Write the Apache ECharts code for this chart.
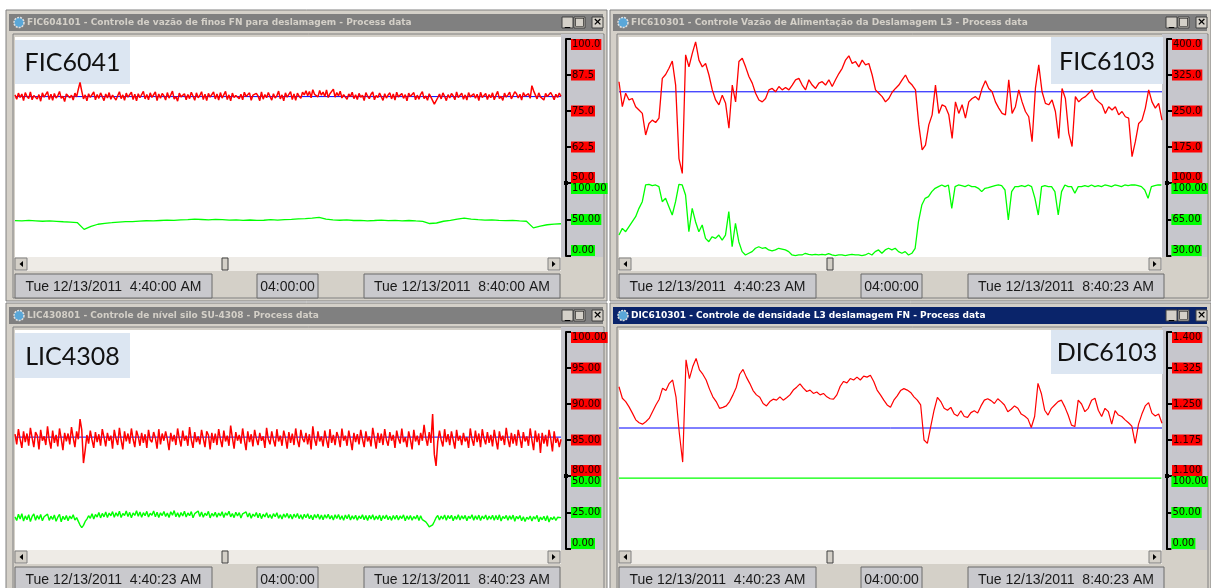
<!DOCTYPE html>
<html>
<head>
<meta charset="utf-8">
<title>Process data</title>
<script src="https://cdn.jsdelivr.net/npm/echarts@6/dist/echarts.min.js"></script>
<style>
  html, body { margin: 0; padding: 0; background: #fff; }
  #chart { width: 1211px; height: 588px; }
</style>
</head>
<body>
<div id="chart"></div>
<script>
// 4 horas de tendência em cada janela (minutos)
const timeSpan = 240

// FIC6041 - vazão de finos
const fic6041Red = [
  80.6, 79.1, 81.2, 79.7, 80.9, 78.6, 81.4, 80.0, 79.3, 81.6, 78.9, 80.4, 81.0, 79.2, 80.7, 78.4, 81.3, 79.8, 80.2, 81.7,
  79.0, 80.8, 78.7, 81.1, 79.5, 80.3, 81.8, 79.4, 80.1, 78.3, 80.9, 81.5, 79.6, 80.5, 78.8, 81.2, 79.9, 82.6, 84.9, 81.9,
  79.2, 80.6, 78.5, 81.0, 79.7, 80.2, 81.6, 78.9, 80.7, 79.4, 81.3, 80.0, 78.6, 80.9, 79.5, 81.4, 79.1, 80.5, 81.1, 78.8,
  80.3, 81.7, 79.3, 80.6, 78.7, 81.2, 79.8, 80.4, 81.5, 79.0, 80.8, 78.5, 81.0, 79.6, 80.2, 81.8, 79.2, 80.7, 78.9, 81.3,
  79.7, 80.1, 81.6, 78.6, 80.9, 79.4, 81.1, 80.3, 78.8, 81.4, 79.5, 80.6, 81.9, 79.1, 80.0, 78.4, 81.2, 79.9, 80.5, 81.0,
  78.9, 80.7, 79.3, 81.5, 80.2, 78.7, 81.3, 79.6, 80.4, 81.7, 79.0, 80.8, 78.6, 81.1, 79.8, 80.3, 81.6, 79.2, 80.9, 78.8,
  81.4, 79.5, 80.1, 81.8, 79.0, 80.6, 78.5, 81.2, 79.7, 80.4, 81.0, 79.3, 80.8, 78.9, 81.5, 80.0, 79.4, 81.3, 78.7, 80.5,
  79.9, 81.1, 80.2, 78.6, 81.6, 79.1, 80.7, 79.6, 81.4, 80.0, 78.8, 81.0, 79.5, 80.3, 81.9, 79.2, 80.6, 78.5, 81.3, 79.8,
  80.4, 81.7, 79.0, 80.9, 78.7, 81.2, 80.1, 79.4, 81.5, 80.6, 82.0, 80.3, 81.8, 79.6, 82.4, 80.8, 81.2, 79.9, 82.1, 80.5,
  81.6, 80.0, 82.3, 79.7, 81.0, 80.4, 82.6, 79.8, 81.4, 80.2, 81.9, 79.5, 80.7, 81.3, 79.1, 80.9, 80.0, 81.5, 79.3, 80.6,
  79.0, 81.1, 79.8, 80.5, 78.6, 81.4, 80.1, 79.3, 80.8, 81.6, 78.9, 80.4, 79.7, 81.2, 80.0, 78.7, 81.0, 79.5, 80.6, 81.3,
  79.2, 80.9, 78.8, 81.5, 79.9, 80.3, 81.1, 79.4, 80.7, 78.5, 81.2, 80.0, 79.6, 81.4, 78.9, 80.5, 79.1, 80.8, 81.7, 79.3,
  80.2, 78.7, 81.0, 79.8, 80.4, 77.4, 77.9, 79.6, 80.9, 79.2, 81.3, 80.1, 78.6, 80.7, 79.5, 81.1, 80.3, 78.9, 81.6, 79.7,
  80.0, 81.2, 79.1, 80.6, 78.8, 81.4, 79.9, 80.3, 81.0, 79.4, 80.8, 78.6, 81.5, 79.7, 80.2, 81.1, 79.0, 80.7, 79.6, 81.3,
  78.9, 80.5, 81.8, 79.3, 80.1, 78.7, 81.2, 79.8, 80.6, 81.5, 79.2, 80.4, 81.7, 81.0, 79.5, 80.8, 78.8, 81.4, 80.2, 79.6,
  81.0, 79.4, 83.8, 82.0, 80.6, 79.2, 81.3, 79.9, 80.4, 78.8, 81.1, 80.0, 79.5, 81.4, 80.3, 78.9, 80.8, 79.7, 81.2, 80.1
]
const fic6041Green = [
  48.5, 48.0, 48.8, 48.2, 47.6, 48.1, 47.5, 46.9, 46.4, 45.8,
  36.5, 40.5, 43.5, 44.8, 45.6, 46.5, 47.2, 47.0, 47.8, 48.3,
  48.0, 48.6, 49.2, 48.8, 49.5, 49.9, 50.4, 50.0, 49.6, 50.3,
  49.8, 49.2, 49.6, 48.8, 49.3, 48.7, 49.0, 49.7, 49.1, 49.8,
  50.2, 50.8, 51.2, 52.0, 53.0, 50.5, 49.6, 49.0, 49.4, 48.6,
  48.9, 48.2, 48.6, 49.1, 48.5, 48.8, 48.2, 48.6, 48.0, 47.5,
  44.5, 45.2, 47.6, 48.8, 50.5, 51.8, 50.6, 49.8, 49.2, 49.6,
  48.9, 48.4, 48.7, 48.1, 47.6, 38.5, 41.0, 42.8, 43.6, 44.2
]
const fic6041Sp = 80
const fic6041RedTicks = [50, 62.5, 75, 87.5, 100]
const fic6041GreenTicks = [0, 50, 100]

// FIC6103 - vazão de alimentação
const fic6103Red = [
  311, 259, 287, 273, 276, 259, 252, 245, 200, 224,
  231, 226, 235, 318, 326, 339, 354, 304, 151, 120,
  367, 342, 370, 394, 356, 342, 349, 325, 294, 273,
  263, 283, 266, 214, 304, 269, 353, 360, 342, 322,
  308, 287, 273, 269, 276, 294, 297, 290, 301, 294,
  299, 294, 304, 315, 318, 304, 294, 315, 304, 297,
  308, 311, 304, 315, 301, 315, 328, 339, 356, 365,
  349, 353, 342, 356, 346, 349, 325, 294, 287, 280,
  269, 276, 289,
  297, 304, 315, 325, 311, 304, 294, 221, 169, 179,
  221, 242, 304, 245, 263, 259, 242, 193, 269, 245,
  263, 235, 269, 276, 280, 273, 297, 313, 297, 290,
  269, 256, 245, 242, 315, 245, 259, 294, 269, 249,
  238, 186, 297, 346, 290, 266, 263, 273, 249, 193,
  297, 276, 204, 176, 280, 269, 276, 280, 287, 294,
  276, 269, 263, 245, 259, 252, 259, 242, 249, 238,
  235, 155, 186, 224, 231, 256, 294, 269, 256, 266,
  231
]
const fic6103Green = [
  50.1, 56.5, 53.3, 58.1, 62.9, 67.7, 75.7, 82.1, 98.1, 98.7,
  97.4, 98.1, 96.5, 82.1, 85.3, 77.3, 69.3, 82.1, 98.7, 98.1,
  88.5, 53.3, 75.7, 62.9, 53.3, 59.7, 46.9, 43.7, 48.5, 46.9,
  50.1, 45.3, 50.1, 72.5, 38.9, 61.3, 43.7, 34.2, 31.0, 32.6,
  34.2, 37.4, 38.9, 37.4, 38.0, 35.8, 34.8, 35.8, 37.4, 36.7,
  35.8, 34.2, 31.0, 30.3, 31.0, 31.0, 32.6, 31.6, 31.0, 31.6,
  31.0, 31.6, 31.0, 32.2, 31.0, 30.3, 31.0, 31.0, 30.3, 31.0,
  31.6, 31.0, 31.0, 30.3, 31.0, 32.6, 31.0, 34.2, 35.8, 32.6,
  35.8, 37.4, 35.8,
  37.4, 34.2, 32.6, 34.2, 31.0, 32.6, 37.4, 62.9, 78.9, 85.3,
  86.9, 91.7, 94.9, 96.5, 98.1, 96.5, 98.1, 75.7, 96.5, 98.1,
  97.4, 96.5, 98.1, 96.5, 96.5, 94.9, 91.7, 94.9, 95.5, 96.5,
  97.4, 98.1, 97.4, 93.3, 64.5, 91.7, 96.5, 96.5, 97.4, 96.5,
  98.1, 96.5, 85.3, 69.3, 96.5, 97.4, 96.5, 96.5, 91.7, 69.3,
  91.7, 98.1, 96.5, 96.5, 90.1, 96.5, 96.5, 97.4, 96.5, 98.1,
  96.5, 97.4, 96.5, 98.1, 97.4, 96.5, 98.1, 97.4, 96.5, 98.1,
  97.4, 98.1, 98.1, 97.4, 96.5, 93.3, 85.3, 96.5, 97.4, 98.1,
  98.1
]
const fic6103Sp = 290
const fic6103RedTicks = [100, 175, 250, 325, 400]
const fic6103GreenTicks = [30, 65, 100]

// LIC4308 - nível silo
const lic4308Red = [
  85.8, 84.4, 86.5, 85.1, 83.9, 86.2, 84.7, 85.9, 84.2, 86.7, 85.3, 84.0, 86.1, 85.6, 83.7, 86.4, 84.9, 85.5, 84.3, 86.9,
  85.0, 83.8, 86.3, 84.6, 85.7, 84.1, 86.6, 85.2, 83.6, 86.0, 84.8, 85.9, 84.4, 86.8, 85.3, 84.0, 86.2, 85.1, 87.9, 86.4,
  81.8, 83.6, 85.7, 84.5, 86.3, 85.0, 83.9, 86.1, 84.7, 85.8, 84.2, 86.5, 85.4, 84.1, 86.0, 84.9, 85.6, 83.8, 86.4, 85.2,
  84.3, 86.7, 85.0, 83.7, 86.2, 84.8, 85.9, 84.5, 86.6, 85.1, 84.0, 86.3, 85.5, 84.2, 86.0, 84.6, 85.8, 83.9, 86.4, 85.0,
  84.7, 86.1, 85.3, 83.8, 86.5, 84.4, 85.9, 84.9, 86.2, 85.1, 83.6, 86.0, 84.8, 85.7, 84.3, 86.6, 85.2, 84.1, 86.3, 84.9,
  85.6, 84.2, 86.8, 85.0, 83.9, 86.1, 84.7, 85.5, 84.4, 86.4, 85.2, 84.0, 86.2, 85.7, 83.7, 86.0, 84.6, 85.9, 84.3, 86.5,
  85.1, 84.0, 86.3, 84.8, 85.6, 84.2, 87.0, 85.3, 83.8, 86.1, 84.9, 85.7, 84.5, 86.6, 85.0, 83.6, 86.2, 84.7, 85.8, 84.1,
  86.4, 85.2, 84.3, 86.0, 84.9, 85.5, 83.9, 86.7, 85.1, 84.4, 86.2, 85.0, 84.1, 86.5, 84.8, 85.6, 84.2, 86.3, 85.3, 83.8,
  86.1, 84.6, 85.9, 84.3, 86.6, 85.0, 84.0, 86.4, 85.2, 84.7, 86.0, 84.4, 85.8, 83.7, 86.9, 85.1, 84.2, 86.2, 84.8, 85.5,
  84.1, 86.3, 85.0, 83.9, 86.5, 84.6, 85.7, 84.3, 86.1, 85.4, 84.0, 86.6, 84.9, 85.6, 84.2, 86.3, 85.0, 83.6, 86.0, 84.7,
  85.8, 84.4, 86.4, 85.1, 84.0, 86.2, 84.8, 85.5, 84.1, 86.7, 85.3, 83.8, 86.0, 84.6, 85.9, 84.3, 86.5, 85.0, 84.2, 86.1,
  84.9, 85.7, 83.9, 86.3, 85.2, 84.5, 86.6, 84.7, 85.4, 84.0, 86.2, 85.1, 83.7, 86.4, 84.8, 85.6, 84.3, 86.0, 84.9, 87.1,
  85.3, 84.2, 86.1, 84.6, 88.6, 83.0, 81.4, 84.8, 86.3, 85.0, 84.1, 86.5, 84.7, 85.8, 84.3, 86.2, 85.0, 83.8, 86.4, 84.9,
  85.6, 84.3, 86.0, 84.8, 85.4, 83.9, 86.6, 85.1, 84.2, 86.3, 84.7, 85.9, 84.0, 86.5, 85.2, 84.4, 86.1, 84.6, 85.7, 84.1,
  86.4, 85.0, 83.7, 86.2, 84.9, 85.6, 84.3, 86.7, 85.1, 84.0, 86.0, 84.5, 85.8, 84.2, 86.4, 85.3, 83.9, 86.1, 84.8, 85.5,
  84.2, 86.6, 85.0, 83.6, 86.3, 84.7, 85.9, 83.2, 86.0, 84.5, 85.7, 84.1, 86.4, 85.2, 83.4, 86.2, 84.6, 85.3, 84.0, 85.1
]
const lic4308Green = [
  22.0, 19.5, 23.8, 20.6, 24.2, 19.1, 22.7, 20.0, 23.5, 18.8, 22.3, 24.0, 19.7, 22.9, 20.4, 23.6, 19.3, 22.1, 20.8, 23.9,
  19.6, 22.5, 20.2, 23.3, 19.0, 21.8, 23.7, 18.6, 22.4, 20.1, 23.0, 19.4, 22.6, 20.7, 23.4, 19.8, 21.5, 18.9, 16.4, 14.6,
  16.2, 18.9, 20.5, 22.8, 21.0, 24.1, 20.6, 23.7, 21.9, 25.0, 21.3, 24.4, 22.0, 25.3, 21.5, 24.6, 22.7, 25.6, 21.8, 24.8,
  22.5, 25.9, 21.6, 24.3, 22.9, 26.0, 22.2, 25.1, 21.4, 24.7, 23.0, 26.2, 22.4, 25.4, 21.7, 24.9, 22.8, 25.8, 21.9, 24.5,
  23.1, 26.1, 22.0, 25.2, 21.6, 24.8, 22.9, 25.7, 22.3, 24.6, 21.5, 25.5, 23.2, 26.3, 22.1, 24.9, 21.8, 25.0, 22.6, 25.9,
  21.9, 24.7, 22.8, 25.6, 21.4, 24.2, 23.0, 26.0, 22.2, 25.3, 21.7, 24.5, 22.9, 25.8, 21.3, 24.4, 22.5, 25.1, 21.8, 24.6,
  22.7, 25.5, 21.6, 24.8, 23.1, 25.9, 22.0, 24.3, 21.5, 25.2, 22.6, 24.9, 21.2, 24.1, 22.8, 25.4, 21.9, 24.7, 21.1, 23.9,
  22.3, 25.0, 21.4, 24.5, 20.8, 23.8, 22.0, 24.9, 21.3, 23.6, 20.9, 24.2, 22.1, 24.8, 21.0, 23.5, 20.6, 24.0, 21.7, 24.4,
  21.1, 23.7, 20.5, 23.9, 21.6, 24.3, 20.8, 23.4, 20.3, 23.8, 21.4, 24.1, 20.7, 23.2, 20.1, 23.6, 21.2, 23.9, 20.4, 23.3,
  20.0, 23.5, 21.1, 23.8, 20.6, 22.9, 19.8, 23.4, 20.9, 23.7, 20.2, 22.8, 19.6, 23.3, 20.7, 23.6, 19.9, 22.7, 20.5, 23.1,
  19.7, 22.6, 20.8, 23.5, 20.1, 22.9, 19.5, 23.0, 20.6, 23.4, 19.9, 22.5, 20.3, 23.2, 19.4, 22.8, 20.7, 23.3, 20.0, 22.4,
  19.6, 22.9, 20.4, 23.1, 19.8, 22.6, 20.9, 23.4, 19.3, 22.7, 20.2, 23.0, 19.7, 22.3, 20.6, 23.2, 19.5, 22.8, 20.1, 21.2,
  18.6, 17.0, 15.1, 14.2, 16.5, 18.8, 21.4, 23.0, 19.9, 22.6, 20.5, 23.3, 19.6, 22.9, 20.8, 23.1, 19.4, 22.5, 20.3, 23.4,
  19.8, 22.7, 20.6, 23.0, 19.3, 22.4, 20.9, 23.5, 19.7, 22.8, 20.2, 23.2, 19.5, 22.6, 20.7, 23.3, 19.9, 22.5, 20.4, 23.1,
  19.6, 22.9, 20.1, 23.4, 19.2, 22.3, 20.8, 23.0, 19.7, 22.7, 20.3, 23.2, 19.0, 22.4, 20.6, 22.9, 19.4, 22.1, 18.9, 21.8,
  20.3, 22.6, 19.1, 22.2, 20.5, 23.0, 18.7, 21.9, 20.0, 22.4, 19.3, 22.8, 18.5, 21.6, 20.2, 22.1, 19.5, 21.7, 20.4, 21.5
]
const lic4308Sp = 85.4
const lic4308RedTicks = [80, 85, 90, 95, 100]
const lic4308GreenTicks = [0, 25, 50]

// DIC6103 - densidade
const dic6103Red = [
  1.286, 1.262, 1.255, 1.244, 1.231, 1.217, 1.211, 1.208, 1.213, 1.220,
  1.234, 1.248, 1.260, 1.283, 1.278, 1.293, 1.300, 1.265, 1.189, 1.129,
  1.342, 1.303, 1.328, 1.345, 1.321, 1.312, 1.300, 1.281, 1.265, 1.255,
  1.241, 1.243, 1.246, 1.255, 1.269, 1.285, 1.312, 1.322, 1.306, 1.293,
  1.278, 1.269, 1.264, 1.251, 1.246, 1.255, 1.260, 1.258, 1.265, 1.258,
  1.263, 1.269, 1.279, 1.285, 1.292, 1.283, 1.276, 1.279, 1.272, 1.275,
  1.269, 1.272, 1.265, 1.261, 1.260, 1.269, 1.287, 1.297, 1.294, 1.303,
  1.300, 1.306, 1.300, 1.308, 1.306, 1.310, 1.297, 1.279, 1.269, 1.258,
  1.248, 1.243, 1.258, 1.267, 1.278, 1.282, 1.279, 1.274, 1.265, 1.258,
  1.248, 1.175, 1.168, 1.203, 1.237, 1.264, 1.255, 1.241, 1.237, 1.243,
  1.229, 1.225, 1.236, 1.224, 1.222, 1.232, 1.236, 1.231, 1.246, 1.258,
  1.261, 1.257, 1.251, 1.261, 1.255, 1.248,
  1.234, 1.239, 1.246, 1.241, 1.229, 1.225, 1.219, 1.201, 1.224, 1.293,
  1.272, 1.237, 1.227, 1.241, 1.248, 1.255, 1.258, 1.244, 1.227, 1.206,
  1.203, 1.258, 1.250, 1.234, 1.241, 1.258, 1.262, 1.237, 1.224, 1.241,
  1.234, 1.208, 1.236, 1.227, 1.224, 1.217, 1.211, 1.204, 1.168, 1.208,
  1.229, 1.246, 1.253, 1.231, 1.225, 1.229, 1.210
]
const dic6103Green = [97, 97]
const dic6103Sp = 1.2
const dic6103RedTicks = [1.1, 1.175, 1.25, 1.325, 1.4]
const dic6103GreenTicks = [0, 50, 100]

const panels = [
  {
    x: 6, y: 10, plotW: 546, active: false,
    title: 'FIC604101 - Controle de vazão de finos FN para deslamagem - Process data',
    tag: 'FIC6041', tagBox: [9, 30, 115, 44],
    red: fic6041Red, green: fic6041Green, sp: fic6041Sp, redWidth: 1.5, greenWidth: 1.3,
    redTicks: fic6041RedTicks, greenTicks: fic6041GreenTicks, redDec: 1, greenDec: 2,
    times: ['Tue 12/13/2011  4:40:00 AM', '04:00:00', 'Tue 12/13/2011  8:40:00 AM'],
    thumb: 216
  },
  {
    x: 610, y: 10, plotW: 543, active: false,
    title: 'FIC610301 - Controle Vazão de Alimentação da Deslamagem L3 - Process data',
    tag: 'FIC6103', tagBox: [441, 27, 112, 47],
    red: fic6103Red, green: fic6103Green, sp: fic6103Sp, redWidth: 1.3, greenWidth: 1.3,
    redTicks: fic6103RedTicks, greenTicks: fic6103GreenTicks, redDec: 1, greenDec: 2,
    times: ['Tue 12/13/2011  4:40:23 AM', '04:00:00', 'Tue 12/13/2011  8:40:23 AM'],
    thumb: 217
  },
  {
    x: 6, y: 303, plotW: 546, active: false,
    title: 'LIC430801 - Controle de nível silo SU-4308 - Process data',
    tag: 'LIC4308', tagBox: [9, 30, 115, 45],
    red: lic4308Red, green: lic4308Green, sp: lic4308Sp, redWidth: 1.5, greenWidth: 1.4,
    redTicks: lic4308RedTicks, greenTicks: lic4308GreenTicks, redDec: 2, greenDec: 2,
    times: ['Tue 12/13/2011  4:40:23 AM', '04:00:00', 'Tue 12/13/2011  8:40:23 AM'],
    thumb: 216
  },
  {
    x: 610, y: 303, plotW: 543, active: true,
    title: 'DIC610301 - Controle de densidade L3 deslamagem FN - Process data',
    tag: 'DIC6103', tagBox: [441, 27, 112, 44],
    red: dic6103Red, green: dic6103Green, sp: dic6103Sp, redWidth: 1.2, greenWidth: 1.3,
    redTicks: dic6103RedTicks, greenTicks: dic6103GreenTicks, redDec: 3, greenDec: 2,
    times: ['Tue 12/13/2011  4:40:23 AM', '04:00:00', 'Tue 12/13/2011  8:40:23 AM'],
    thumb: 217
  }
]

const FACE = '#d4d0c8'
const SHADOW = '#808080'
const labelFont = '"Liberation Sans Narrow", "DejaVu Sans Condensed", sans-serif'

const grids = []
const xAxes = []
const yAxes = []
const series = []
const graphics = []

function toPoints (arr) {
  return arr.map((v, i) => [i * timeSpan / (arr.length - 1), v])
}

function rect (x, y, w, h, fill, stroke) {
  graphics.push({
    type: 'rect',
    shape: { x: x, y: y, width: w, height: h },
    style: { fill: fill, stroke: stroke || null, lineWidth: 1 },
    silent: true
  })
}

function text (x, y, str, font, color, align, vAlign) {
  graphics.push({
    type: 'text',
    x: x,
    y: y,
    style: {
      text: str,
      font: font,
      fill: color,
      align: align || 'left',
      verticalAlign: vAlign || 'middle'
    },
    silent: true
  })
}

function yAxisFor (gridIndex, ticks, dec, bg) {
  return {
    gridIndex: gridIndex,
    type: 'value',
    position: 'right',
    offset: 5,
    min: ticks[0],
    max: ticks[ticks.length - 1],
    axisLine: { show: true, onZero: false, lineStyle: { color: '#000', width: 2 } },
    axisTick: { show: true, length: 5, customValues: ticks, lineStyle: { color: '#000', width: 2 } },
    splitLine: { show: false },
    axisLabel: {
      customValues: ticks,
      margin: 5,
      color: '#1a0000',
      backgroundColor: bg,
      padding: [0, 1, 0, 1],
      fontFamily: labelFont,
      fontSize: 11,
      lineHeight: 11,
      verticalAlignMinLabel: 'bottom',
      verticalAlignMaxLabel: 'top',
      formatter: function (v) { return Number(v).toFixed(dec) }
    },
    z: 5
  }
}

function buildPanel (p) {
  const ox = p.x
  const oy = p.y
  const bodyW = 601
  const titleColor = p.active ? '#0a246a' : SHADOW
  const titleText = p.active ? '#ffffff' : '#d4d0c8'

  // moldura da janela
  rect(ox, oy, bodyW, 291, FACE, SHADOW)
  rect(ox + 3, oy + 4, bodyW - 7, 17, titleColor)
  graphics.push({
    type: 'circle',
    shape: { cx: ox + 13, cy: oy + 12.5, r: 5 },
    style: { fill: '#5aa7d8', stroke: '#e0e0e0', lineWidth: 1.5, lineDash: [2, 1] },
    silent: true
  })
  text(ox + 21, oy + 13, p.title, 'bold 9px "DejaVu Sans", sans-serif', titleText)

  // botões minimizar / maximizar / fechar
  const btns = [[556, '_'], [568, '□'], [586, '×']]
  btns.forEach(function (b) {
    rect(ox + b[0], oy + 7, 11, 11, FACE, '#404040')
    text(ox + b[0] + 5.5, oy + 12, b[1], 'bold 11px "DejaVu Sans", sans-serif', '#000', 'center')
  })

  // área interna
  rect(ox + 7, oy + 24, 591, 264, FACE, SHADOW)
  rect(ox + 9, oy + 27, p.plotW, 220, '#ffffff')
  rect(ox + 9 + p.plotW, oy + 24, 597 - 9 - p.plotW, 223, '#c6c6cc')

  // etiqueta da tag
  const tb = p.tagBox
  rect(ox + tb[0], oy + tb[1], tb[2], tb[3], '#dce6f2')
  text(ox + tb[0] + tb[2] / 2, oy + tb[1] + tb[3] / 2 + 1, p.tag, '25px Lato, "Open Sans", sans-serif', '#111', 'center')

  // barra de rolagem
  const sy = oy + 247
  rect(ox + 9, sy, p.plotW, 14, '#eeebe6')
  rect(ox + 9, sy + 1, 12, 12, FACE, SHADOW)
  rect(ox + 9 + p.plotW - 13, sy + 1, 12, 12, FACE, SHADOW)
  graphics.push({
    type: 'polygon',
    shape: { points: [[ox + 17, sy + 4], [ox + 17, sy + 10], [ox + 13.5, sy + 7]] },
    style: { fill: '#000' },
    silent: true
  })
  graphics.push({
    type: 'polygon',
    shape: { points: [[ox + p.plotW, sy + 4], [ox + p.plotW, sy + 10], [ox + p.plotW + 3.5, sy + 7]] },
    style: { fill: '#000' },
    silent: true
  })
  rect(ox + p.thumb, sy + 1, 6, 12, FACE, '#404040')

  // caixas de horário
  const boxes = [[9, 197], [251, 61], [358, 196]]
  boxes.forEach(function (b, i) {
    rect(ox + b[0], oy + 264, b[1], 24, '#c9c9cd', '#6a6a6a')
    text(ox + b[0] + b[1] / 2, oy + 277, p.times[i], '14px "Liberation Sans", Arial, sans-serif', '#1a1a1a', 'center')
  })

  // marcador na junção dos eixos
  rect(ox + 9 + p.plotW + 3, oy + 171, 4, 4, '#000')

  // grids: vermelho em cima, verde embaixo
  const gi = grids.length
  grids.push({ left: ox + 9, top: oy + 29, width: p.plotW, height: 144 })
  grids.push({ left: ox + 9, top: oy + 173, width: p.plotW, height: 73 })
  xAxes.push({ gridIndex: gi, type: 'value', min: 0, max: timeSpan, show: false })
  xAxes.push({ gridIndex: gi + 1, type: 'value', min: 0, max: timeSpan, show: false })
  yAxes.push(yAxisFor(gi, p.redTicks, p.redDec, '#ff0000'))
  yAxes.push(yAxisFor(gi + 1, p.greenTicks, p.greenDec, '#00ff00'))

  series.push({
    type: 'line',
    xAxisIndex: gi,
    yAxisIndex: gi,
    data: [[0, p.sp], [timeSpan, p.sp]],
    symbol: 'none',
    lineStyle: { color: '#0000ff', width: 1 },
    z: 3
  })
  series.push({
    type: 'line',
    xAxisIndex: gi,
    yAxisIndex: gi,
    data: toPoints(p.red),
    symbol: 'none',
    lineStyle: { color: '#ff0000', width: p.redWidth },
    z: 4
  })
  series.push({
    type: 'line',
    xAxisIndex: gi + 1,
    yAxisIndex: gi + 1,
    data: toPoints(p.green),
    symbol: 'none',
    lineStyle: { color: '#00ff00', width: p.greenWidth },
    z: 4
  })
}

panels.forEach(buildPanel)

const chart = echarts.init(document.getElementById('chart'))
chart.setOption({
  animation: false,
  backgroundColor: '#ffffff',
  graphic: { elements: graphics },
  grid: grids,
  xAxis: xAxes,
  yAxis: yAxes,
  series: series
})
</script>
</body>
</html>
